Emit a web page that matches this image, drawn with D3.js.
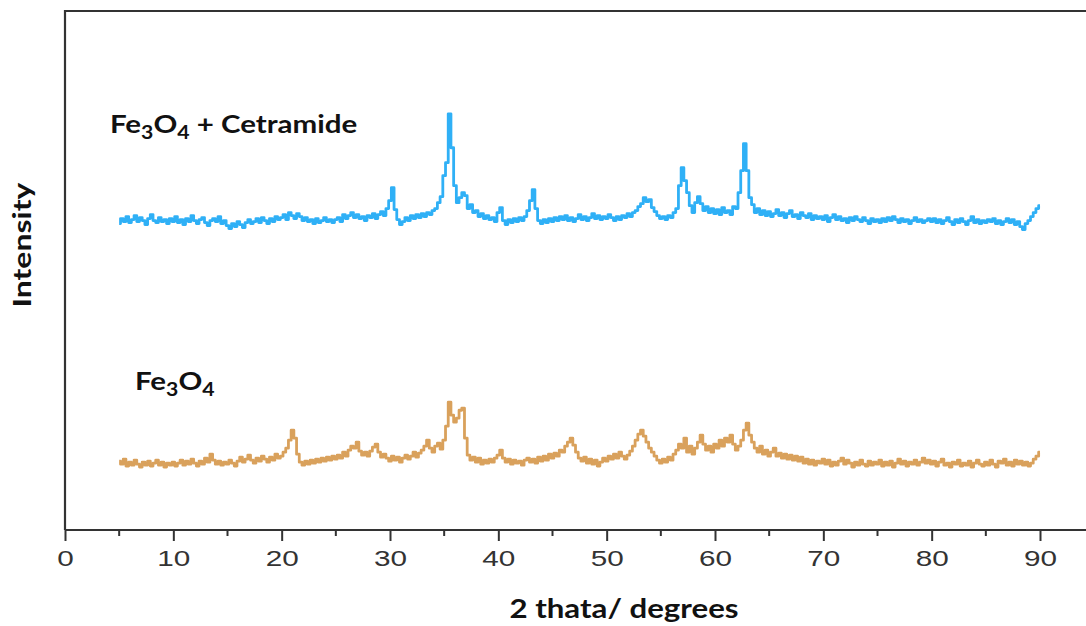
<!DOCTYPE html>
<html>
<head>
<meta charset="utf-8">
<script src="https://cdn.jsdelivr.net/npm/d3@7"></script>
<style>
  body { margin: 0; background: #fff; }
  .lbl { font-family: Lato, "Open Sans", sans-serif; font-weight: bold; fill: #111; }
  .tick text { font-family: "Liberation Sans", Arial, sans-serif; }
</style>
</head>
<body>
<div id="chart"></div>
<script>
// XRD patterns, 2theta scan 5..90 deg, step 0.25
const scanStart = 5, scanStep = 0.25;

// Fe3O4 + Cetramide (offset trace, upper)
const cetramide = [
  307,312,309,314,308,311,315,309,313,310,306,312,316,310,308,313,309,311,307,312,
  309,314,308,311,306,312,309,315,310,307,311,313,308,305,310,312,309,314,307,310,
  305,302,307,304,309,306,303,308,311,307,309,312,308,313,310,307,312,309,314,311,
  313,316,311,318,315,312,317,314,310,313,309,311,307,312,308,310,313,309,311,308,
  311,313,309,316,312,315,318,313,316,312,314,310,315,313,317,312,316,319,315,322,
  330,343,321,311,306,309,313,310,315,312,316,313,317,314,318,316,320,322,328,334,
  355,368,417,383,345,328,333,338,335,322,326,318,320,314,317,312,315,311,313,309,
  318,323,310,306,311,308,312,309,313,310,314,320,330,341,322,310,307,311,308,312,
  309,313,310,314,311,315,310,313,309,312,316,311,314,310,313,317,312,315,311,314,
  312,316,313,310,314,311,315,313,317,314,318,320,324,327,333,329,331,323,319,315,
  312,314,311,315,313,318,322,345,363,350,338,325,318,328,334,327,320,324,318,322,
  317,321,316,323,318,320,316,324,322,338,360,387,360,333,326,318,322,316,320,315,
  319,314,317,321,315,318,313,317,320,314,316,312,318,315,313,317,311,315,312,314,
  311,315,309,313,316,311,314,310,312,308,313,310,314,311,309,313,310,307,312,309,
  311,308,312,309,313,310,314,311,308,312,309,311,307,310,313,309,311,308,310,312,
  309,312,308,311,307,310,313,309,306,311,308,312,309,306,310,314,308,311,307,310,
  308,311,309,312,307,310,306,309,312,308,311,306,309,304,301,307,310,314,318,322,
  325
];

// Fe3O4 (lower trace)
const magnetite = [
  69,66,71,64,68,65,70,66,63,68,65,69,64,67,70,65,68,63,67,65,
  68,64,67,70,65,69,66,71,67,64,69,66,72,68,76,70,66,69,65,68,
  66,70,67,64,69,73,68,71,75,70,67,72,69,74,71,68,73,70,76,72,
  74,78,82,90,100,92,76,68,65,69,66,70,67,71,68,72,69,73,70,74,
  71,75,72,78,74,80,84,82,88,79,75,78,74,79,83,86,78,73,76,72,
  69,74,70,73,68,72,75,71,74,78,73,77,80,84,90,82,78,84,87,81,
  90,104,128,115,108,112,120,122,92,75,70,73,68,72,66,70,67,71,68,72,
  75,80,72,68,71,66,70,67,69,65,70,72,68,71,67,73,69,74,70,76,
  72,77,74,80,78,84,88,92,85,78,72,69,73,67,71,66,70,64,68,72,
  69,74,71,76,72,78,74,71,75,79,84,90,96,100,94,88,82,78,74,70,
  67,71,68,73,70,76,80,86,82,92,78,84,76,82,88,95,86,80,84,78,
  86,82,90,84,92,88,95,86,80,84,90,100,107,95,88,82,78,84,76,80,
  74,78,82,74,77,72,76,71,75,70,74,69,73,67,71,66,70,65,69,67,
  71,66,70,64,68,65,69,72,66,70,67,63,68,65,70,66,64,69,65,68,
  66,70,64,68,65,69,63,67,71,66,69,64,68,66,70,65,68,72,67,70,
  66,69,64,68,71,65,67,63,68,66,70,64,67,65,69,63,67,70,66,64,
  68,65,70,66,63,69,67,71,65,68,64,70,66,69,65,68,64,67,71,74,
  78
];

const xMajor = [0, 10, 20, 30, 40, 50, 60, 70, 80, 90];
const xMinor = [5, 15, 25, 35, 45, 55, 65, 75, 85];

const W = 1086, H = 626;
const mLeft = 65, mTop = 11, mBottom = 530;

const svg = d3.select("#chart").append("svg")
  .attr("width", W).attr("height", H);

const x = d3.scaleLinear().domain([0, 90]).range([mLeft, 1040]);
const y = d3.scaleLinear().domain([0, 520]).range([mBottom, mTop]);

const toPts = arr => arr.map((v, i) => [scanStart + i * scanStep, v]);
const line = d3.line().x(d => x(d[0])).y(d => y(d[1])).curve(d3.curveStep);

// frame: left + top (right side runs off the picture)
svg.append("path")
  .attr("d", `M${mLeft},${mBottom}V${mTop}H${W + 5}`)
  .attr("fill", "none").attr("stroke", "#333").attr("stroke-width", 2.2);

// bottom axis
const gx = svg.append("g").attr("transform", `translate(0,${mBottom})`);
gx.append("line").attr("x1", mLeft).attr("x2", W + 5)
  .attr("stroke", "#333").attr("stroke-width", 2.2);
gx.call(d3.axisBottom(x).tickValues(xMajor).tickSize(11).tickPadding(9).tickFormat(d3.format("d")));
gx.select(".domain").remove();
gx.selectAll(".tick line").attr("stroke", "#333").attr("stroke-width", 2);
gx.selectAll(".tick text")
  .attr("font-size", 22).attr("fill", "#333")
  .attr("transform", "scale(1.35,1)");
gx.selectAll(".minor").data(xMinor).enter().append("line")
  .attr("x1", d => x(d)).attr("x2", d => x(d))
  .attr("y1", 0).attr("y2", 6)
  .attr("stroke", "#333").attr("stroke-width", 2);

// traces
svg.append("path").datum(toPts(magnetite))
  .attr("d", line).attr("fill", "none")
  .attr("stroke", "#d9a15c").attr("stroke-width", 2.8).attr("stroke-linejoin", "round");
svg.append("path").datum(toPts(cetramide))
  .attr("d", line).attr("fill", "none")
  .attr("stroke", "#2fb0f6").attr("stroke-width", 2.8).attr("stroke-linejoin", "round");

// series labels with subscripts (stretched like the source figure)
function chem(xp, yp, parts) {
  const t = svg.append("text").attr("class", "lbl")
    .attr("transform", `translate(${xp},${yp}) scale(1.18,1)`)
    .attr("font-size", 25);
  parts.forEach(p => {
    const s = t.append("tspan").text(p[0]);
    if (p[1]) s.attr("font-size", 18).attr("dy", 6);
    else s.attr("dy", p[2] || 0);
  });
}
chem(110, 133, [["Fe"], ["3", true], ["O", false, -6], ["4", true], [" + Cetramide", false, -6]]);
chem(135, 390, [["Fe"], ["3", true], ["O", false, -6], ["4", true]]);

// axis titles
svg.append("text").attr("class", "lbl")
  .attr("transform", "translate(624,618) scale(1.2,1)")
  .attr("text-anchor", "middle")
  .attr("font-size", 26).text("2 thata/ degrees");
svg.append("text").attr("class", "lbl")
  .attr("transform", "translate(31,245) rotate(-90) scale(1.28,1)")
  .attr("text-anchor", "middle").attr("font-size", 25).text("Intensity");
</script>
</body>
</html>
